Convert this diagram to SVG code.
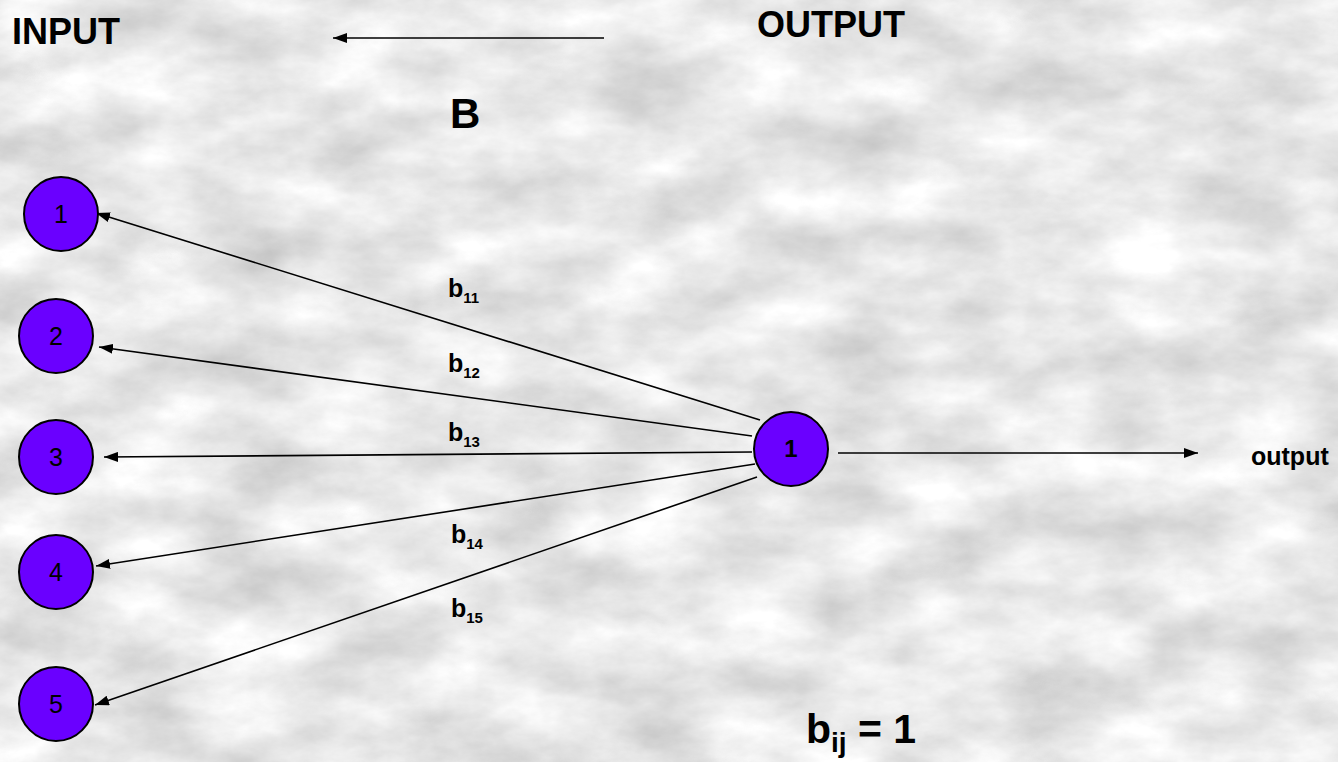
<svg xmlns="http://www.w3.org/2000/svg" width="1338" height="762" viewBox="0 0 1338 762">
<defs>
<filter id="marble" x="0" y="0" width="100%" height="100%" color-interpolation-filters="sRGB">
<feTurbulence type="fractalNoise" baseFrequency="0.01 0.018" numOctaves="6" seed="11" result="n"/>
<feColorMatrix in="n" type="matrix" values="0.3 0 0 0 0.76  0.3 0 0 0 0.76  0.3 0 0 0 0.76  0 0 0 0 1"/>
</filter>
<marker id="ah" viewBox="0 0 14 10" refX="14" refY="5" markerWidth="14" markerHeight="10" markerUnits="userSpaceOnUse" orient="auto">
<path d="M0,0 L14,5 L0,10 z" fill="#000"/>
</marker>
<style>
.node circle{fill:#6a00ff;stroke:#000;stroke-width:2}
.nl{font-family:"Liberation Sans",Arial,sans-serif;font-size:25px;fill:#000;text-anchor:middle}
.edge{stroke:#000;stroke-width:1.6;fill:none;marker-end:url(#ah)}
.lbl{font-family:"Liberation Sans",Arial,sans-serif;font-weight:bold;fill:#000}
.w{font-size:25px}
.s{font-size:15px}
</style>
</defs>
<rect width="1338" height="762" fill="#e4e4e4" filter="url(#marble)"/>
<g id="connectors">
<line class="edge" x1="604" y1="38" x2="333" y2="38"/>
<line class="edge" x1="760" y1="420" x2="96" y2="213"/>
<line class="edge" x1="752" y1="436" x2="99" y2="347"/>
<line class="edge" x1="752" y1="452" x2="104" y2="457"/>
<line class="edge" x1="755" y1="464" x2="96" y2="566"/>
<line class="edge" x1="757" y1="477" x2="95" y2="705"/>
<line class="edge" x1="838" y1="453" x2="1198" y2="453"/>
</g>
<g id="in1" class="node"><circle cx="61" cy="214" r="37"/><text class="nl" x="61" y="223">1</text></g>
<g id="in2" class="node"><circle cx="56" cy="336" r="37"/><text class="nl" x="56" y="345">2</text></g>
<g id="in3" class="node"><circle cx="56" cy="457" r="37"/><text class="nl" x="56" y="466">3</text></g>
<g id="in4" class="node"><circle cx="56" cy="572" r="37"/><text class="nl" x="56" y="581">4</text></g>
<g id="in5" class="node"><circle cx="56" cy="704" r="37"/><text class="nl" x="56" y="713">5</text></g>
<g id="out1" class="node"><circle cx="791" cy="449" r="37"/><text class="nl" x="791" y="457" style="font-weight:bold;font-size:24px">1</text></g>
<g id="labels">
<text class="lbl" x="12" y="44" font-size="36">INPUT</text>
<text class="lbl" x="757" y="37" font-size="36">OUTPUT</text>
<text class="lbl" x="450" y="128" font-size="42">B</text>
<text class="lbl w" x="448" y="297">b<tspan class="s" dy="6">11</tspan></text>
<text class="lbl w" x="448" y="372">b<tspan class="s" dy="6">12</tspan></text>
<text class="lbl w" x="448" y="441">b<tspan class="s" dy="6">13</tspan></text>
<text class="lbl w" x="451" y="543">b<tspan class="s" dy="6">14</tspan></text>
<text class="lbl w" x="451" y="617">b<tspan class="s" dy="6">15</tspan></text>
<text class="lbl" x="1251" y="465" font-size="25">output</text>
<text class="lbl" x="806" y="743" font-size="41">b<tspan font-size="28" dy="9">ij</tspan><tspan dy="-9"> = 1</tspan></text>
</g>
</svg>
